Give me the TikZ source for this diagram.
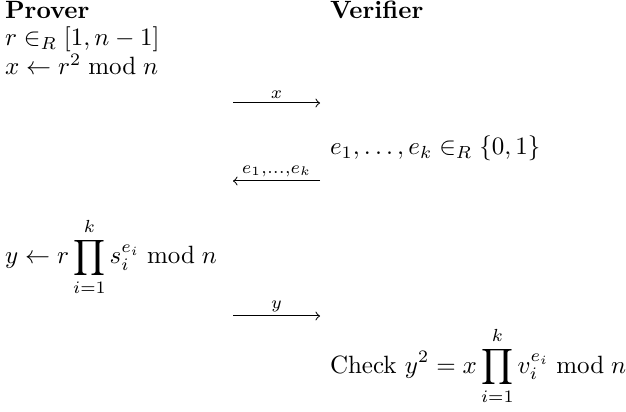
\documentclass[tikz,border=0pt]{standalone}
\usepackage{amsmath}
\begin{document}
\begin{tikzpicture}[x=0.4pt,y=-0.4pt,
  txt/.style={anchor=base west,inner sep=0pt,outer sep=0pt},
  msg/.style={->,line width=0.4pt},
  lbl/.style={above,inner sep=1.5pt}]
\useasboundingbox (0,0) rectangle (626,412);
\node[txt] (prover) at (5,19) {\textbf{Prover}};
\node[txt] (verifier) at (330,19) {\textbf{Verifier}};
\node[txt] (rline) at (5,46) {$r \in_R [1,n-1]$};
\node[txt] (xline) at (5,75) {$x \leftarrow r^2 \bmod n$};
\coordinate (a1s) at (233,103);
\coordinate (a1e) at (320,103);
\draw[msg] (a1s) -- node[lbl] {$\scriptstyle x$} (a1e);
\node[txt] (eline) at (330,155) {$e_1,\ldots,e_k \in_R \{0,1\}$};
\coordinate (a2s) at (320,181);
\coordinate (a2e) at (233,181);
\draw[msg] (a2s) -- node[lbl] {$\scriptstyle e_1,\ldots,e_k$} (a2e);
\node[txt] (yline) at (5,264) {$\displaystyle y \leftarrow r\prod_{i=1}^{k} s_i^{e_i} \bmod n$};
\coordinate (a3s) at (233,316);
\coordinate (a3e) at (320,316);
\draw[msg] (a3s) -- node[lbl] {$\scriptstyle y$} (a3e);
\node[txt] (check) at (330,373) {Check $\displaystyle y^2 = x\prod_{i=1}^{k} v_i^{e_i} \bmod n$};
\end{tikzpicture}
\end{document}
